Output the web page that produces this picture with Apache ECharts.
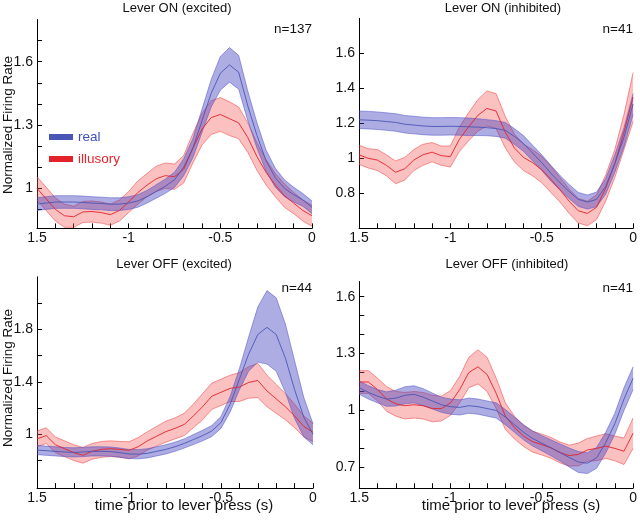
<!DOCTYPE html>
<html>
<head>
<meta charset="utf-8">
<script src="https://cdn.jsdelivr.net/npm/echarts@6/dist/echarts.min.js"></script>
<style>html,body{margin:0;padding:0;background:#fff}#c{width:640px;height:521px}</style>
</head>
<body>
<div id="c"></div>
<script>
// ---------- data ----------
const times = [-1.5,-1.45,-1.4,-1.35,-1.3,-1.25,-1.2,-1.15,-1.1,-1.05,-1.0,-0.95,-0.9,-0.85,-0.8,-0.75,-0.7,-0.65,-0.6,-0.55,-0.5,-0.45,-0.4,-0.35,-0.3,-0.25,-0.2,-0.15,-0.1,-0.05,0];

const titles = ['Lever ON (excited)','Lever ON (inhibited)','Lever OFF (excited)','Lever OFF (inhibited)'];
const counts = ['n=137','n=41','n=44','n=41'];
const seriesNames = ['real','illusory'];

const xTickValues = [-1.5,-1.4,-1.3,-1.2,-1.1,-1.0,-0.9,-0.8,-0.7,-0.6,-0.5,-0.4,-0.3,-0.2,-0.1,0];
const xLabelValues = [-1.5,-1,-0.5,0];
const xLabelTexts = ['1.5','-1','-0.5','0'];

const yRanges = [[0.81,1.8],[0.6,1.8],[0.59,2.2],[0.59,1.68]];
const yTickValues = [
  [0.9,1.0,1.1,1.2,1.3,1.4,1.5,1.6,1.7],
  [0.8,1.0,1.2,1.4,1.6],
  [0.8,1.0,1.2,1.4,1.6,1.8,2.0],
  [0.7,0.8,0.9,1.0,1.1,1.2,1.3,1.4,1.5,1.6]
];
const yLabelValues = [[1,1.3,1.6],[0.8,1,1.2,1.4,1.6],[1,1.4,1.8],[0.7,1,1.3,1.6]];

// Panel 1: Lever ON (excited)
const p1RealMean = [0.925,0.93,0.935,0.935,0.935,0.933,0.93,0.928,0.925,0.925,0.93,0.94,0.96,0.985,1.01,1.04,1.10,1.19,1.32,1.45,1.545,1.585,1.55,1.39,1.25,1.13,1.05,1.0,0.97,0.945,0.91];
const p1RealErr  = [0.03,0.03,0.03,0.03,0.03,0.03,0.03,0.03,0.03,0.03,0.03,0.03,0.03,0.032,0.034,0.036,0.04,0.045,0.055,0.065,0.08,0.082,0.08,0.07,0.06,0.05,0.045,0.04,0.035,0.03,0.03];
const p1IllMean  = [1.0,0.95,0.90,0.87,0.865,0.888,0.89,0.885,0.875,0.895,0.935,0.98,1.015,1.045,1.06,1.055,1.09,1.19,1.28,1.335,1.35,1.33,1.31,1.24,1.15,1.075,1.015,0.965,0.93,0.895,0.87];
const p1IllErr   = [0.055,0.055,0.055,0.055,0.05,0.05,0.05,0.05,0.05,0.05,0.05,0.055,0.055,0.06,0.06,0.06,0.065,0.07,0.075,0.08,0.08,0.08,0.075,0.07,0.065,0.06,0.055,0.055,0.05,0.05,0.05];

// Panel 2: Lever ON (inhibited)
const p2RealMean = [1.22,1.218,1.215,1.21,1.205,1.195,1.19,1.185,1.182,1.182,1.183,1.182,1.18,1.178,1.175,1.17,1.16,1.125,1.085,1.03,0.975,0.915,0.86,0.81,0.765,0.75,0.765,0.84,0.97,1.12,1.31];
const p2RealErr  = [0.05,0.05,0.05,0.05,0.05,0.05,0.05,0.05,0.05,0.05,0.05,0.05,0.05,0.048,0.046,0.045,0.045,0.045,0.045,0.045,0.045,0.045,0.042,0.04,0.04,0.04,0.042,0.045,0.05,0.055,0.06];
const p2IllMean  = [1.02,1.0,0.99,0.96,0.92,0.94,0.99,1.02,1.035,1.015,1.01,1.11,1.18,1.245,1.285,1.27,1.15,1.06,1.005,0.975,0.935,0.88,0.82,0.755,0.70,0.685,0.72,0.83,0.97,1.15,1.35];
const p2IllErr   = [0.055,0.055,0.06,0.06,0.065,0.065,0.06,0.06,0.055,0.055,0.06,0.07,0.08,0.09,0.1,0.1,0.09,0.08,0.075,0.075,0.075,0.075,0.07,0.07,0.07,0.07,0.07,0.075,0.08,0.1,0.14];

// Panel 3: Lever OFF (excited)
const p3RealMean = [0.88,0.875,0.87,0.865,0.862,0.865,0.87,0.87,0.868,0.86,0.85,0.848,0.855,0.87,0.885,0.905,0.93,0.96,0.99,1.025,1.09,1.23,1.42,1.61,1.76,1.815,1.76,1.58,1.34,1.13,1.0];
const p3RealErr  = [0.035,0.035,0.035,0.035,0.035,0.035,0.035,0.035,0.035,0.035,0.035,0.035,0.035,0.035,0.035,0.035,0.035,0.038,0.04,0.042,0.045,0.06,0.08,0.13,0.21,0.28,0.28,0.26,0.22,0.15,0.08];
const p3IllMean  = [0.965,0.99,0.92,0.89,0.86,0.84,0.87,0.885,0.89,0.885,0.878,0.905,0.95,0.985,1.02,1.045,1.075,1.14,1.21,1.29,1.32,1.35,1.36,1.395,1.41,1.33,1.27,1.21,1.14,1.06,1.015];
const p3IllErr   = [0.06,0.06,0.06,0.06,0.06,0.06,0.06,0.06,0.06,0.06,0.065,0.07,0.07,0.075,0.08,0.08,0.085,0.09,0.1,0.1,0.1,0.1,0.11,0.12,0.13,0.12,0.11,0.1,0.09,0.08,0.07];

// Panel 4: Lever OFF (inhibited)
const p4RealMean = [1.12,1.095,1.075,1.06,1.065,1.08,1.085,1.07,1.05,1.03,1.02,1.016,1.025,1.02,1.01,1.0,0.965,0.925,0.885,0.852,0.827,0.803,0.778,0.752,0.728,0.722,0.75,0.83,0.93,1.06,1.17];
const p4RealErr  = [0.035,0.035,0.035,0.038,0.042,0.045,0.045,0.045,0.042,0.04,0.04,0.04,0.04,0.04,0.04,0.04,0.04,0.04,0.04,0.04,0.04,0.042,0.045,0.05,0.055,0.055,0.055,0.055,0.055,0.06,0.06];
const p4IllMean  = [1.15,1.15,1.11,1.06,1.035,1.025,1.03,1.025,1.01,1.01,1.04,1.11,1.2,1.23,1.19,1.09,0.97,0.91,0.865,0.835,0.82,0.803,0.778,0.762,0.768,0.792,0.8,0.812,0.8,0.785,0.88];
const p4IllErr   = [0.06,0.06,0.06,0.065,0.065,0.07,0.07,0.07,0.07,0.065,0.065,0.07,0.08,0.09,0.09,0.08,0.07,0.06,0.055,0.055,0.055,0.055,0.055,0.055,0.06,0.06,0.065,0.065,0.065,0.07,0.08];

const panelData = [
  {realMean:p1RealMean, realErr:p1RealErr, illMean:p1IllMean, illErr:p1IllErr},
  {realMean:p2RealMean, realErr:p2RealErr, illMean:p2IllMean, illErr:p2IllErr},
  {realMean:p3RealMean, realErr:p3RealErr, illMean:p3IllMean, illErr:p3IllErr},
  {realMean:p4RealMean, realErr:p4RealErr, illMean:p4IllMean, illErr:p4IllErr}
];

// ---------- layout / style ----------
const FONT = 'Liberation Sans, Arial, sans-serif';
const grids = [
  {left:37, top:19.5, width:275, height:208.9},
  {left:359, top:18.3, width:277, height:210},
  {left:37, top:276.8, width:276, height:211.3},
  {left:359.3, top:281.5, width:275.7, height:206.7}
];
const BLUE = '#4a56b4', BLUE_FILL = 'rgba(60,60,190,0.42)', BLUE_EDGE = 'rgba(80,80,200,0.75)';
const RED = '#e3222a', RED_FILL = 'rgba(245,80,80,0.36)', RED_EDGE = 'rgba(238,70,70,0.8)';

function bandRenderer(fill, edge) {
  return function (params, api) {
    if (params.dataIndexInside !== 0) return null;
    const n = params.dataInsideLength;
    const up = [], lo = [];
    for (let j = 0; j < n; j++) {
      const x = api.value(0, j);
      up.push(api.coord([x, api.value(2, j)]));
      lo.push(api.coord([x, api.value(1, j)]));
    }
    const poly = up.concat(lo.slice().reverse());
    return {
      type: 'group',
      children: [
        {type:'polygon', shape:{points:poly}, style:{fill:fill, stroke:null}},
        {type:'polyline', shape:{points:up}, style:{stroke:edge, fill:null, lineWidth:0.7}},
        {type:'polyline', shape:{points:lo}, style:{stroke:edge, fill:null, lineWidth:0.7}}
      ]
    };
  };
}

const series = [];
panelData.forEach((p, k) => {
  const bandData = (mean, err) => times.map((t, i) => [t, +(mean[i] - err[i]).toFixed(4), +(mean[i] + err[i]).toFixed(4)]);
  series.push({type:'custom', xAxisIndex:k, yAxisIndex:k, silent:true, renderItem:bandRenderer(RED_FILL, RED_EDGE),
    encode:{x:0, y:[1,2]}, data:bandData(p.illMean, p.illErr), z:1});
  series.push({type:'custom', xAxisIndex:k, yAxisIndex:k, silent:true, renderItem:bandRenderer(BLUE_FILL, BLUE_EDGE),
    encode:{x:0, y:[1,2]}, data:bandData(p.realMean, p.realErr), z:1});
  series.push({type:'line', name:'illusory', xAxisIndex:k, yAxisIndex:k, silent:true, symbol:'none', color:RED,
    lineStyle:{color:RED, width:0.9}, data:times.map((t, i) => [t, p.illMean[i]]), z:3});
  series.push({type:'line', name:'real', xAxisIndex:k, yAxisIndex:k, silent:true, symbol:'none', color:BLUE,
    lineStyle:{color:BLUE, width:0.9}, data:times.map((t, i) => [t, p.realMean[i]]), z:3});
});

const xAxes = grids.map((g, k) => ({
  type:'value', gridIndex:k, min:-1.5, max:0,
  axisLine:{show:true, onZero:false, lineStyle:{color:'#000', width:1}},
  axisTick:{show:true, inside:true, length:5, lineStyle:{color:'#000'}, customValues:xTickValues},
  axisLabel:{customValues:xLabelValues, margin:3, color:'#111', fontSize:14, fontFamily:FONT,
    formatter:(v) => { const i = xLabelValues.findIndex(x => Math.abs(x - v) < 1e-6); return i >= 0 ? xLabelTexts[i] : ''; }},
  splitLine:{show:false}
}));
const yAxes = grids.map((g, k) => ({
  type:'value', gridIndex:k, min:yRanges[k][0], max:yRanges[k][1],
  axisLine:{show:true, onZero:false, lineStyle:{color:'#000', width:1}},
  axisTick:{show:true, inside:true, length:5, lineStyle:{color:'#000'}, customValues:yTickValues[k]},
  axisLabel:{customValues:yLabelValues[k], margin:4, color:'#111', fontSize:14, fontFamily:FONT,
    formatter:(v) => String(+v.toFixed(2))},
  splitLine:{show:false}
}));

const titlePos = [[177,8],[503,8],[174,264],[507,264]];
const countPos = [[312,29],[633,29],[312,288],[633,288]];
const graphics = [];
titles.forEach((t, k) => graphics.push({type:'text', x:titlePos[k][0], y:titlePos[k][1],
  style:{text:t, fontSize:13, fontFamily:FONT, fill:'#111', textAlign:'center', textVerticalAlign:'middle'}}));
counts.forEach((t, k) => graphics.push({type:'text', x:countPos[k][0], y:countPos[k][1],
  style:{text:t, fontSize:13.5, fontFamily:FONT, fill:'#111', textAlign:'right', textVerticalAlign:'middle'}}));
[[8,125],[8,378]].forEach(p => graphics.push({type:'text', x:p[0], y:p[1], rotation:Math.PI/2,
  style:{text:'Normalized Firing Rate', fontSize:13.5, fontFamily:FONT, fill:'#111', textAlign:'center', textVerticalAlign:'middle'}}));
[[184,506],[511,506]].forEach(p => graphics.push({type:'text', x:p[0], y:p[1],
  style:{text:'time prior to lever press (s)', fontSize:15, fontFamily:FONT, fill:'#111', textAlign:'center', textVerticalAlign:'middle'}}));

const chart = echarts.init(document.getElementById('c'), null, {renderer:'canvas'});
chart.setOption({
  animation:false,
  backgroundColor:'#fff',
  grid: grids.map(g => Object.assign({containLabel:false}, g)),
  xAxis: xAxes,
  yAxis: yAxes,
  legend: {
    orient:'vertical', left:44, top:125, itemWidth:24, itemHeight:6, itemGap:8, icon:'rect', selectedMode:false,
    textStyle:{fontSize:13.5, fontFamily:FONT},
    data:[{name:'real', textStyle:{color:'#3d50b8'}}, {name:'illusory', textStyle:{color:'#e8242a'}}]
  },
  graphic: graphics,
  series: series
});
</script>
</body>
</html>
